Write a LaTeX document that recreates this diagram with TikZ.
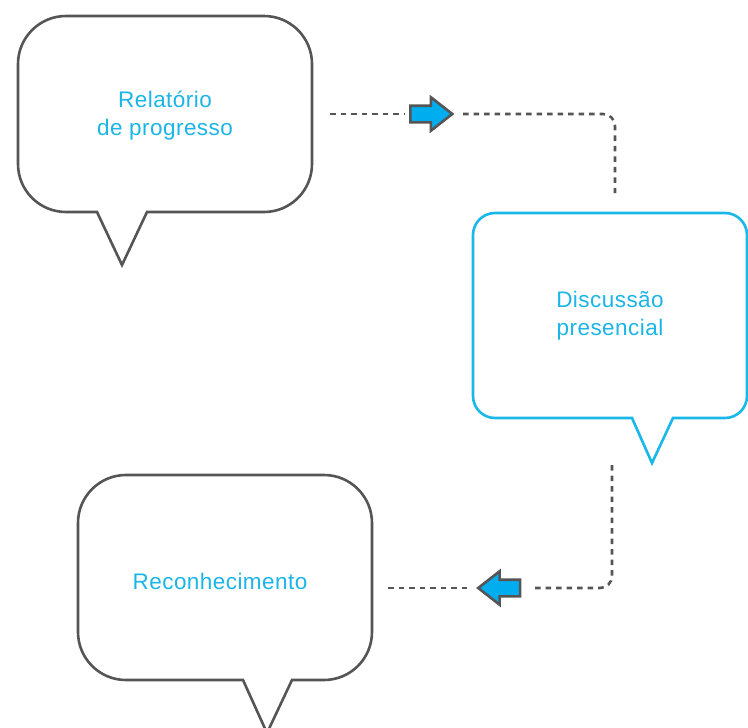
\documentclass[tikz,border=0pt]{standalone}
\usepackage{fontspec}
\setmainfont{Liberation Sans}
\newfontfamily\lblfont[LetterSpace=2]{Liberation Sans}
\usetikzlibrary{shapes.arrows}
\definecolor{cyantext}{HTML}{1CB5E8}
\definecolor{cyanfill}{HTML}{00AEEF}
\definecolor{cyanline}{HTML}{1AB7EA}
\definecolor{darkgray}{HTML}{555555}
\begin{document}
\begin{tikzpicture}[x=1pt,y=-1pt,
  bubble/.style={draw=darkgray,line width=2.6pt,line join=miter,fill=white},
  bluebubble/.style={draw=cyanline,line width=2.6pt,line join=miter,fill=white},
  lbl/.style={font=\lblfont\fontsize{22.5}{28}\selectfont,text=cyantext,align=center,inner sep=0pt},
  conn/.style={draw=darkgray,line width=2.6pt,dash pattern=on 5.5pt off 5pt,rounded corners=12pt},
  flowarrow/.style={single arrow,draw=darkgray,fill=cyanfill,line width=2.6pt,line join=miter,
    inner xsep=0pt,inner ysep=7pt,text height=0pt,text depth=0pt,minimum height=42pt,
    single arrow head extend=8.5pt,single arrow tip angle=76,single arrow head indent=0pt}]
\useasboundingbox (0,0) rectangle (748,728);

% bubble 1
\draw[bubble] (147,212) -- (264,212) arc[start angle=90,end angle=0,radius=48]
  -- (312,64) arc[start angle=0,end angle=-90,radius=48]
  -- (66,16) arc[start angle=-90,end angle=-180,radius=48]
  -- (18,164) arc[start angle=180,end angle=90,radius=48]
  -- (97,212) -- (122,265) -- cycle;
\node[lbl] (rel) at (165,116) {Relatório\\de progresso};

% bubble 2
\draw[bluebubble] (673,418) -- (725,418) arc[start angle=90,end angle=0,radius=22]
  -- (747,235) arc[start angle=0,end angle=-90,radius=22]
  -- (495,213) arc[start angle=-90,end angle=-180,radius=22]
  -- (473,396) arc[start angle=180,end angle=90,radius=22]
  -- (632,418) -- (652,463) -- cycle;
\node[lbl] (disc) at (610,316) {Discussão\\presencial};

% bubble 3
\draw[bubble] (292,680) -- (324,680) arc[start angle=90,end angle=0,radius=48]
  -- (372,523) arc[start angle=0,end angle=-90,radius=48]
  -- (126,475) arc[start angle=-90,end angle=-180,radius=48]
  -- (78,632) arc[start angle=180,end angle=90,radius=48]
  -- (243,680) -- (267,733) -- cycle;
\node[lbl] (rec) at (220,581) {Reconhecimento};

% arrows
\node[flowarrow] (a1) at (426,114) {};
\node[flowarrow,shape border rotate=180] (a2) at (504.5,588) {};

% connector coordinates
\coordinate (c1s) at (330,114);
\coordinate (c1a) at (463,114);
\coordinate (c1b) at (615,114);
\coordinate (c1e) at (615,193);
\coordinate (c2s) at (612,465);
\coordinate (c2b) at (612,588);
\coordinate (c2a) at (532,588);
\coordinate (c2c) at (467,588);
\coordinate (c2e) at (388,588);

\draw[conn] (c1s) -- ([xshift=-4pt]a1.west);
\draw[conn] (c1a) -- (c1b) -- (c1e);
\draw[conn] (c2s) -- (c2b) -- (c2a);
\draw[conn] (c2c) -- (c2e);
\end{tikzpicture}
\end{document}
